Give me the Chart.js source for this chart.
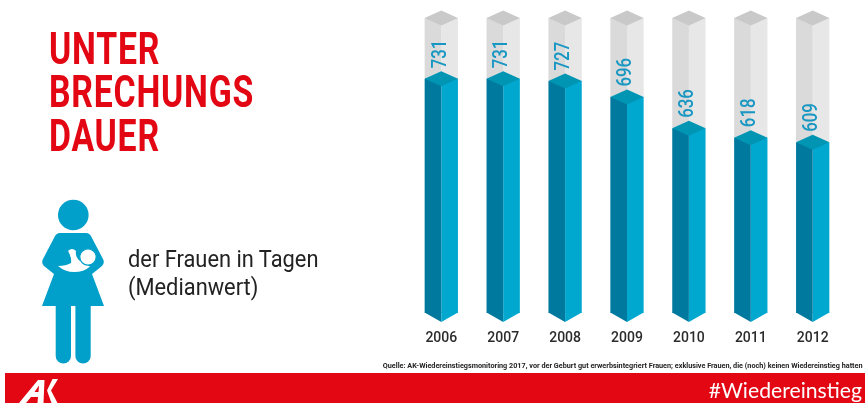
<!DOCTYPE html>
<html lang="de">
<head>
<meta charset="utf-8">
<title>Unterbrechungsdauer</title>
<script src="https://cdn.jsdelivr.net/npm/chart.js@4"></script>
<style>
    html, body { margin: 0; padding: 0; background: #fff; }
    #page { position: relative; width: 865px; height: 403px; overflow: hidden; font-family: Roboto, sans-serif; }
    #page > * { position: absolute; }
    #chartBox { left: 0; top: 0; width: 865px; height: 403px; }
    #headline { left: 49px; top: 27.5px; margin: 0; font-size: 43.6px; line-height: 43.6px; font-weight: 700; letter-spacing: 1px; color: #e30613; transform: scaleX(0.775); transform-origin: left top; white-space: nowrap; }
    #subline { left: 128px; top: 245px; font-size: 24px; line-height: 28px; color: #222; transform: scaleX(0.91); transform-origin: left top; white-space: nowrap; }
    #source { right: 2px; top: 362px; font-size: 7px; line-height: 8px; font-weight: 700; color: #222; transform: scaleX(1.035); transform-origin: right top; white-space: nowrap; }
    #footer { left: 5px; top: 373px; width: 860px; height: 30px; background: #e30613; }
    #hashtag { right: 3px; top: 377px; font-family: Lato, sans-serif; font-size: 21.2px; line-height: 26px; color: #fff; white-space: nowrap; }
    svg { left: 0; top: 0; }
</style>
</head>
<body>
<div id="page">
    <div id="chartBox"><canvas id="dauerChart"></canvas></div>
    <h1 id="headline">UNTER<br>BRECHUNGS<br>DAUER</h1>
    <div id="subline">der Frauen in Tagen<br>(Medianwert)</div>
    <div id="source">Quelle: AK-Wiedereinstiegsmonitoring 2017, vor der Geburt gut erwerbsintegriert Frauen; exklusive Frauen, die (noch) keinen Wiedereinstieg hatten</div>
    <div id="footer"></div>
    <div id="hashtag">#Wiedereinstieg</div>
    <svg width="865" height="403" viewBox="0 0 865 403">
        <!-- Mutter mit Kind -->
        <g fill="#00a0cb">
            <circle cx="73.3" cy="215" r="15.3"/>
            <path d="M60 233 H86 Q90 233 92 238 L103 259 Q105 263 102 266 L92 274 L104 306 H42 L54 274 L44 266 Q41 263 43 259 L54 238 Q56 233 60 233 Z"/>
            <rect x="55.7" y="296" width="15.3" height="67.5" rx="7.6"/>
            <rect x="75.4" y="296" width="15.3" height="67.5" rx="7.6"/>
        </g>
        <path fill="#fff" d="M68 251 Q72 247 76 251 Q75 257 80 261 L90 266.5 Q84 272 74 272 Q65 272 58 266 Q66 266 71 263 Q72 258 68 251 Z"/>
        <circle cx="88" cy="257" r="8.2" fill="#fff" stroke="#00a0cb" stroke-width="1.2"/>
        <!-- AK Logo -->
        <g fill="#fff">
            <path fill-rule="evenodd" d="M19 403 L38 380 H44.5 L43.5 403 H37.5 L38 397 H31 L26 403 Z M34.5 392 H38.5 L39 385.5 Z"/>
            <path d="M47 390.5 L52.5 379 H58 L51 390.5 L57.5 403 H51.5 Z"/>
        </g>
    </svg>
</div>
<script>
const years = ["2006", "2007", "2008", "2009", "2010", "2011", "2012"];
const medianDays = [731, 731, 727, 696, 636, 618, 609];

const axisMin = 281;
const axisMax = 848;

const colors = {
    blueLeft: "#00799f",
    blueRight: "#00a8cf",
    blueTop: "#0095b3",
    greyLeft: "#dadada",
    greyRight: "#e7e7e7",
    greyTop: "#c9c9c9",
    label: "#1897c2"
};

const restDays = medianDays.map(v => axisMax - v);

function polygon(ctx, fill, pts) {
    ctx.fillStyle = fill;
    ctx.beginPath();
    pts.forEach((p, i) => i ? ctx.lineTo(p[0], p[1]) : ctx.moveTo(p[0], p[1]));
    ctx.closePath();
    ctx.fill();
}

// Deckel, Spitze unten und senkrechte Werte auf die Balken setzen
const prismPlugin = {
    id: "prism",
    afterDatasetsDraw(chart) {
        const ctx = chart.ctx;
        const y = chart.scales.y;
        const leftFaces = chart.getDatasetMeta(0).data;
        const rise = 7.5;

        leftFaces.forEach((bar, i) => {
            const half = bar.width;
            const mid = bar.x + half / 2;
            const x0 = mid - half;
            const x1 = mid + half;

            const diamond = (yy, fill) => polygon(ctx, fill, [
                [x0, yy], [mid, yy - rise], [x1, yy], [mid, yy + rise]
            ]);

            diamond(y.getPixelForValue(axisMax), colors.greyTop);
            diamond(y.getPixelForValue(medianDays[i]), colors.blueTop);

            const floor = y.getPixelForValue(axisMin);
            polygon(ctx, colors.blueLeft, [[x0, floor - 0.5], [mid, floor - 0.5], [mid, floor + 9]]);
            polygon(ctx, colors.blueRight, [[mid, floor - 0.5], [x1, floor - 0.5], [mid, floor + 9]]);

            ctx.save();
            ctx.translate(mid - 1, y.getPixelForValue(medianDays[i]) - rise - 3);
            ctx.rotate(-Math.PI / 2);
            ctx.scale(0.8, 1);
            ctx.font = '500 21px Roboto, sans-serif';
            ctx.fillStyle = colors.label;
            ctx.textAlign = "left";
            ctx.textBaseline = "middle";
            ctx.fillText(String(medianDays[i]), 0, 0);
            ctx.restore();
        });
    }
};

new Chart(document.getElementById("dauerChart"), {
    type: "bar",
    data: {
        labels: years,
        datasets: [
            { data: medianDays, stack: "left", backgroundColor: colors.blueLeft },
            { data: restDays, stack: "left", backgroundColor: colors.greyLeft },
            { data: medianDays, stack: "right", backgroundColor: colors.blueRight },
            { data: restDays, stack: "right", backgroundColor: colors.greyRight }
        ]
    },
    options: {
        responsive: true,
        maintainAspectRatio: false,
        animation: false,
        barPercentage: 1,
        categoryPercentage: 0.538,
        layout: { padding: { left: 410.35, right: 21.35, top: 18, bottom: 0 } },
        plugins: {
            legend: { display: false },
            tooltip: { enabled: false }
        },
        scales: {
            x: {
                stacked: true,
                grid: { display: false },
                border: { display: false },
                afterFit(scale) { scale.height = 90; },
                ticks: {
                    color: "#2b2b2b",
                    padding: 9,
                    maxRotation: 0,
                    font: { family: "Roboto, sans-serif", size: 14, weight: "500" }
                }
            },
            y: {
                display: false,
                stacked: true,
                min: axisMin,
                max: axisMax
            }
        }
    },
    plugins: [prismPlugin]
});
</script>
</body>
</html>
